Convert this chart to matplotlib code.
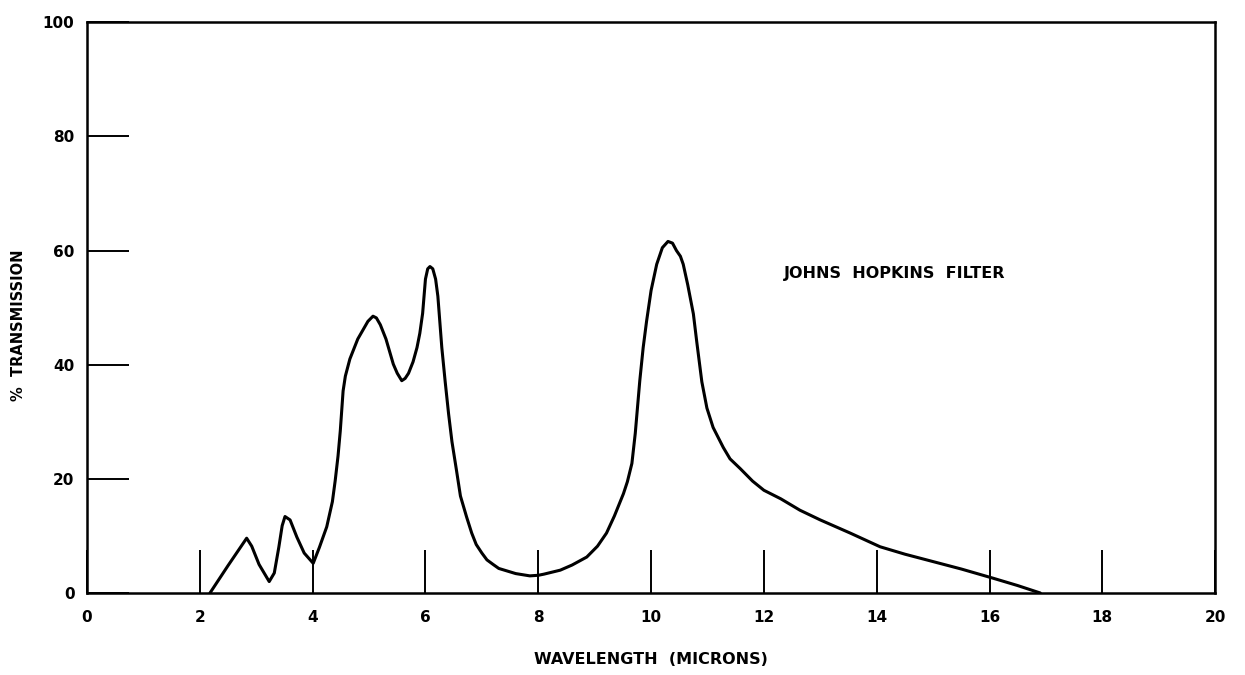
import numpy as np
import matplotlib
matplotlib.use("Agg")
import matplotlib.pyplot as plt

# curve
wavelength = [2.18, 2.5, 2.83, 2.92, 3.05, 3.23, 3.32, 3.4, 3.46, 3.51, 3.6, 3.72,
              3.85, 4.01, 4.12, 4.25, 4.35, 4.40, 4.45, 4.49, 4.54, 4.58, 4.66, 4.8,
              4.98, 5.07, 5.13, 5.2, 5.3, 5.43, 5.5, 5.58, 5.64, 5.7, 5.78, 5.85,
              5.9, 5.95, 6.0, 6.04, 6.08, 6.13, 6.18, 6.22, 6.29, 6.35, 6.41, 6.47,
              6.55, 6.62, 6.73, 6.82, 6.9, 7.0, 7.09, 7.2, 7.3, 7.5, 7.6, 7.85,
              8.0, 8.1, 8.39, 8.6, 8.86, 9.05, 9.21, 9.35, 9.51, 9.58, 9.66, 9.72,
              9.80, 9.86, 9.92, 10.0, 10.10, 10.2, 10.30, 10.38, 10.45, 10.52, 10.57,
              10.65, 10.75, 10.81, 10.9, 10.99, 11.1, 11.28, 11.4, 11.58, 11.8, 12.0,
              12.3, 12.64, 13.0, 13.53, 14.06, 14.5, 15.0, 15.5, 16.06, 16.5, 16.9]
transmission = [0, 4.8, 9.6, 8.2, 5.0, 2.0, 3.5, 8.0, 11.8, 13.4, 12.8, 9.8,
                7.0, 5.2, 8.0, 11.6, 16.0, 19.7, 24.0, 28.4, 35.4, 38.0, 41.0, 44.5,
                47.6, 48.5, 48.2, 47.0, 44.5, 40.1, 38.5, 37.2, 37.6, 38.5, 40.5, 43.0,
                45.5, 49.0, 55.0, 56.8, 57.2, 56.8, 55.0, 52.0, 43.0, 37.0, 31.4, 26.5,
                21.5, 17.0, 13.3, 10.5, 8.5, 7.0, 5.8, 5.0, 4.3, 3.7, 3.4, 3.0,
                3.1, 3.3, 4.0, 4.9, 6.3, 8.2, 10.5, 13.5, 17.4, 19.5, 22.7, 28.0,
                37.2, 43.0, 47.6, 53.0, 57.6, 60.5, 61.6, 61.3, 60.0, 59.0, 57.6,
                54.0, 48.9, 44.0, 37.0, 32.4, 29.0, 25.5, 23.5, 21.8, 19.6, 18.0,
                16.5, 14.5, 12.8, 10.5, 8.1, 6.8, 5.5, 4.2, 2.6, 1.3, 0]

xticks = [0, 2, 4, 6, 8, 10, 12, 14, 16, 18, 20]
yticks = [0, 20, 40, 60, 80, 100]

fig = plt.figure(figsize=(12.45, 6.75), dpi=100, facecolor="w")
ax = fig.add_axes([0.0699, 0.1215, 0.9061, 0.8455])

ax.plot(wavelength, transmission, color="black", lw=2.2,
        solid_joinstyle="round", solid_capstyle="round")

ax.set_xlim(0, 20)
ax.set_ylim(0, 100)
ax.set_xticks(xticks)
ax.set_yticks(yticks)
ax.set_xticklabels([str(v) for v in xticks], fontsize=11, fontweight="bold")
ax.set_yticklabels([str(v) for v in yticks], fontsize=11, fontweight="bold")
ax.tick_params(axis="x", direction="in", length=31, width=1.4, pad=12)
ax.tick_params(axis="y", direction="in", length=30, width=1.4, pad=9)

for s in ax.spines.values():
    s.set_linewidth(1.8)

ax.set_xlabel("WAVELENGTH  (MICRONS)", fontsize=11.5, fontweight="bold", labelpad=20)
ax.set_ylabel("%  TRANSMISSION", fontsize=10.5, fontweight="bold")
ax.yaxis.set_label_coords(-0.054, 0.47)

ax.text(12.35, 56, "JOHNS  HOPKINS  FILTER", fontsize=11.5, fontweight="bold",
        ha="left", va="center")

fig.savefig("out.png", dpi=100, facecolor="white")
